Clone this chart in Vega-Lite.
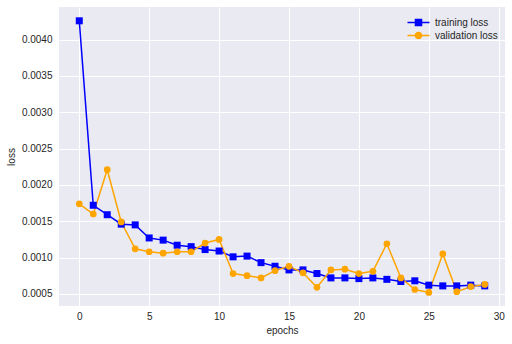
{
  "$schema": "https://vega.github.io/schema/vega-lite/v6.json",
  "width": 446,
  "height": 299,
  "autosize": {"type": "none"},
  "padding": {"left": 59, "top": 7, "right": 7, "bottom": 38},
  "background": "#ffffff",
  "config": {
    "view": {"fill": "#EAEAF2", "stroke": null},
    "font": "Liberation Sans",
    "axis": {
      "domain": false,
      "ticks": false,
      "grid": true,
      "gridColor": "#ffffff",
      "gridWidth": 1,
      "labelFont": "Liberation Sans",
      "labelFontSize": 10,
      "labelColor": "#262626",
      "titleFont": "Liberation Sans",
      "titleFontSize": 10,
      "titleFontWeight": "normal",
      "titleColor": "#262626"
    },
    "legend": {
      "labelFont": "Liberation Sans",
      "labelFontSize": 10,
      "labelColor": "#262626"
    }
  },
  "data": {
    "values": [
      {"epoch": 0, "loss": 0.00426, "series": "training loss"},
      {"epoch": 1, "loss": 0.00172, "series": "training loss"},
      {"epoch": 2, "loss": 0.00159, "series": "training loss"},
      {"epoch": 3, "loss": 0.00146, "series": "training loss"},
      {"epoch": 4, "loss": 0.00145, "series": "training loss"},
      {"epoch": 5, "loss": 0.00127, "series": "training loss"},
      {"epoch": 6, "loss": 0.00124, "series": "training loss"},
      {"epoch": 7, "loss": 0.00117, "series": "training loss"},
      {"epoch": 8, "loss": 0.00115, "series": "training loss"},
      {"epoch": 9, "loss": 0.00111, "series": "training loss"},
      {"epoch": 10, "loss": 0.00109, "series": "training loss"},
      {"epoch": 11, "loss": 0.00101, "series": "training loss"},
      {"epoch": 12, "loss": 0.00102, "series": "training loss"},
      {"epoch": 13, "loss": 0.00093, "series": "training loss"},
      {"epoch": 14, "loss": 0.00088, "series": "training loss"},
      {"epoch": 15, "loss": 0.00083, "series": "training loss"},
      {"epoch": 16, "loss": 0.00083, "series": "training loss"},
      {"epoch": 17, "loss": 0.00078, "series": "training loss"},
      {"epoch": 18, "loss": 0.00072, "series": "training loss"},
      {"epoch": 19, "loss": 0.00072, "series": "training loss"},
      {"epoch": 20, "loss": 0.00071, "series": "training loss"},
      {"epoch": 21, "loss": 0.00072, "series": "training loss"},
      {"epoch": 22, "loss": 0.00070, "series": "training loss"},
      {"epoch": 23, "loss": 0.00067, "series": "training loss"},
      {"epoch": 24, "loss": 0.00068, "series": "training loss"},
      {"epoch": 25, "loss": 0.00062, "series": "training loss"},
      {"epoch": 26, "loss": 0.00061, "series": "training loss"},
      {"epoch": 27, "loss": 0.00061, "series": "training loss"},
      {"epoch": 28, "loss": 0.00062, "series": "training loss"},
      {"epoch": 29, "loss": 0.00061, "series": "training loss"},
      {"epoch": 0, "loss": 0.00174, "series": "validation loss"},
      {"epoch": 1, "loss": 0.00160, "series": "validation loss"},
      {"epoch": 2, "loss": 0.00221, "series": "validation loss"},
      {"epoch": 3, "loss": 0.00149, "series": "validation loss"},
      {"epoch": 4, "loss": 0.00112, "series": "validation loss"},
      {"epoch": 5, "loss": 0.00108, "series": "validation loss"},
      {"epoch": 6, "loss": 0.00106, "series": "validation loss"},
      {"epoch": 7, "loss": 0.00108, "series": "validation loss"},
      {"epoch": 8, "loss": 0.00108, "series": "validation loss"},
      {"epoch": 9, "loss": 0.00120, "series": "validation loss"},
      {"epoch": 10, "loss": 0.00125, "series": "validation loss"},
      {"epoch": 11, "loss": 0.00078, "series": "validation loss"},
      {"epoch": 12, "loss": 0.00075, "series": "validation loss"},
      {"epoch": 13, "loss": 0.00072, "series": "validation loss"},
      {"epoch": 14, "loss": 0.00082, "series": "validation loss"},
      {"epoch": 15, "loss": 0.00088, "series": "validation loss"},
      {"epoch": 16, "loss": 0.00079, "series": "validation loss"},
      {"epoch": 17, "loss": 0.00059, "series": "validation loss"},
      {"epoch": 18, "loss": 0.00083, "series": "validation loss"},
      {"epoch": 19, "loss": 0.00084, "series": "validation loss"},
      {"epoch": 20, "loss": 0.00078, "series": "validation loss"},
      {"epoch": 21, "loss": 0.00081, "series": "validation loss"},
      {"epoch": 22, "loss": 0.00119, "series": "validation loss"},
      {"epoch": 23, "loss": 0.00072, "series": "validation loss"},
      {"epoch": 24, "loss": 0.00056, "series": "validation loss"},
      {"epoch": 25, "loss": 0.00052, "series": "validation loss"},
      {"epoch": 26, "loss": 0.00105, "series": "validation loss"},
      {"epoch": 27, "loss": 0.00053, "series": "validation loss"},
      {"epoch": 28, "loss": 0.00060, "series": "validation loss"},
      {"epoch": 29, "loss": 0.00063, "series": "validation loss"}
    ]
  },
  "layer": [
    {
      "mark": {"type": "line", "strokeWidth": 1.5},
      "encoding": {
        "x": {
          "field": "epoch",
          "type": "quantitative",
          "scale": {"domain": [-1.45, 30.45], "nice": false, "zero": false},
          "axis": {"title": "epochs", "values": [0, 5, 10, 15, 20, 25, 30], "labelPadding": 5, "titlePadding": 4, "labelFlush": false}
        },
        "y": {
          "field": "loss",
          "type": "quantitative",
          "scale": {"domain": [0.000333, 0.00445], "nice": false, "zero": false},
          "axis": {"title": "loss", "values": [0.0005, 0.001, 0.0015, 0.002, 0.0025, 0.003, 0.0035, 0.004], "format": ".4f", "labelPadding": 7, "titlePadding": 5, "labelFlush": false}
        },
        "color": {
          "field": "series",
          "type": "nominal",
          "scale": {"domain": ["training loss", "validation loss"], "range": ["#0000ff", "#ffa500"]},
          "legend": {
            "title": null,
            "orient": "none",
            "legendX": 353,
            "legendY": 9,
            "labelOffset": 10,
            "rowPadding": -2,
            "symbolSize": 121,
            "encode": {
              "symbols": {
                "update": {
                  "shape": {"signal": "datum.value === 'training loss' ? 'M-2,0H2M-0.55,-0.55H0.55V0.55H-0.55Z' : 'M-2,0H2M0.55,0A0.55,0.55 0 1,1 -0.55,0A0.55,0.55 0 1,1 0.55,0'"},
                  "fill": {"signal": "datum.value === 'training loss' ? '#0000ff' : '#ffa500'"},
                  "stroke": {"signal": "datum.value === 'training loss' ? '#0000ff' : '#ffa500'"},
                  "strokeWidth": {"value": 1.5},
                  "opacity": {"value": 1},
                  "size": {"value": 121}
                }
              }
            }
          }
        }
      }
    },
    {
      "mark": {"type": "point", "filled": true, "opacity": 1, "strokeWidth": 0},
      "encoding": {
        "x": {"field": "epoch", "type": "quantitative"},
        "y": {"field": "loss", "type": "quantitative"},
        "color": {"field": "series", "type": "nominal"},
        "shape": {
          "condition": {"test": "datum.series === 'training loss'", "value": "square"},
          "value": "circle"
        },
        "size": {
          "condition": {"test": "datum.series === 'training loss'", "value": 49},
          "value": 45
        }
      }
    }
  ]
}
